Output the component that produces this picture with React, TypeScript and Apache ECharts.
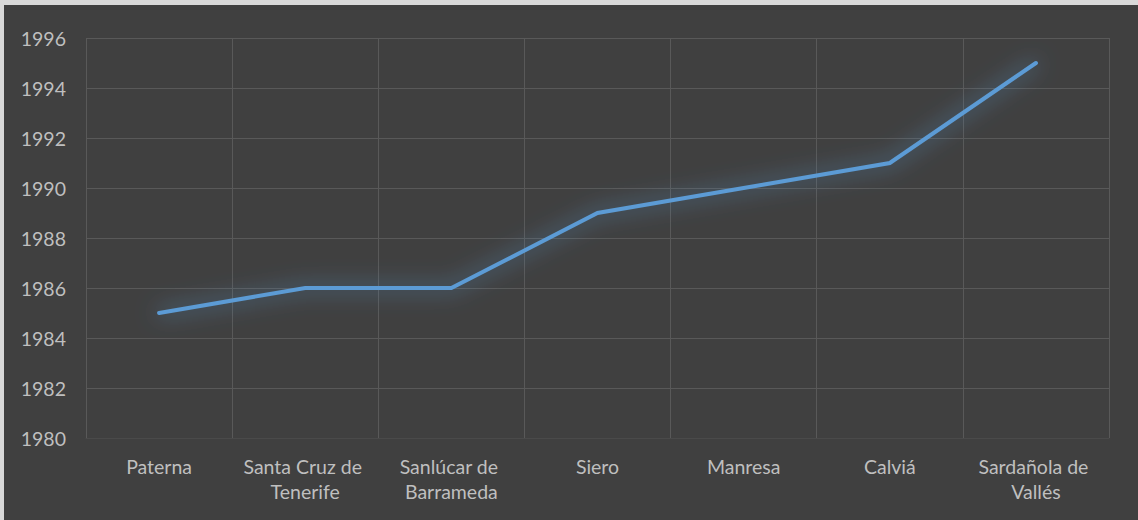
import React, { useEffect, useRef } from "react";
import * as echarts from "echarts";

const categories = [
  "Paterna",
  "Santa Cruz de Tenerife",
  "Sanlúcar de Barrameda",
  "Siero",
  "Manresa",
  "Calviá",
  "Sardañola de Vallés",
];
const years = [1985, 1986, 1986, 1989, 1990, 1991, 1995];
const yMin = 1980;
const yMax = 1996;
const yStep = 2;

export default function App() {
  const ref = useRef<HTMLDivElement>(null);

  useEffect(() => {
    if (!ref.current) return;
    const chart = echarts.init(ref.current, null, { renderer: "svg" });
    const font = "Lato, 'Open Sans', sans-serif";
    chart.setOption({
      animation: false,
      backgroundColor: "#404040",
      grid: { left: 82, right: 29, top: 33, bottom: 82, containLabel: false },
      xAxis: {
        type: "category",
        data: categories,
        boundaryGap: true,
        axisLine: { show: true, lineStyle: { color: "#4a4a4a", width: 1 } },
        axisTick: { show: false },
        splitLine: { show: true, lineStyle: { color: "#595959", width: 1 } },
        axisLabel: {
          color: "#bfbfbf",
          fontFamily: font,
          fontSize: 19.5,
          lineHeight: 25,
          margin: 16,
          width: 140,
          overflow: "break",
          interval: 0,
        },
      },
      yAxis: {
        type: "value",
        min: yMin,
        max: yMax,
        interval: yStep,
        axisLine: { show: false },
        axisTick: { show: false },
        splitLine: { show: true, lineStyle: { color: "#595959", width: 1 } },
        axisLabel: {
          color: "#bfbfbf",
          fontFamily: font,
          fontSize: 19.5,
          margin: 20,
          formatter: (v: number) => String(v),
        },
      },
      series: [
        {
          type: "line",
          data: years,
          symbol: "none",
          lineStyle: {
            color: "#5b9bd5",
            width: 4,
            cap: "round",
            join: "miter",
            shadowColor: "rgba(91,155,213,0.9)",
            shadowBlur: 22,
          },
        },
      ],
    });
    return () => chart.dispose();
  }, []);

  return (
    <div
      style={{
        position: "fixed",
        left: 0,
        top: 0,
        width: 1138,
        height: 520,
        background: "#d9d9d9",
        paddingLeft: 4,
        paddingTop: 5,
        boxSizing: "border-box",
      }}
    >
      <div ref={ref} style={{ width: 1134, height: 515 }} />
    </div>
  );
}
